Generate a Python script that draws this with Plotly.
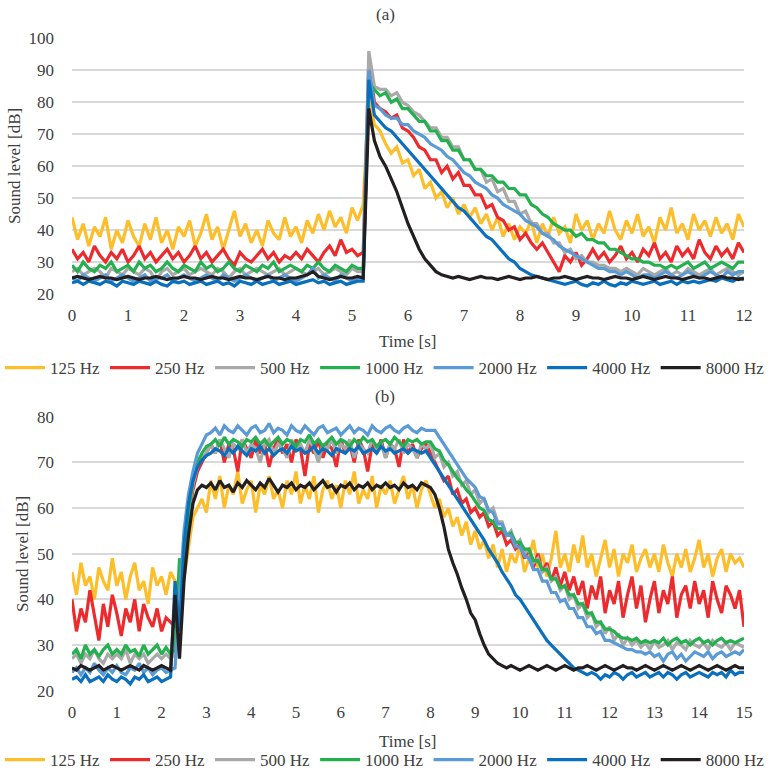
import numpy as np
import plotly.graph_objects as go

# ---------------- data ----------------
FREQS = ["125 Hz", "250 Hz", "500 Hz", "1000 Hz", "2000 Hz", "4000 Hz", "8000 Hz"]
COLORS = ["#FDBE2C", "#EC2B2E", "#A9A9A9", "#25B04F", "#5B9BD5", "#0A70BE", "#231F20"]
DT = 0.1  # sampling step of the read-off values [s]

A_XTICKS = list(range(0, 13))
A_YTICKS = list(range(20, 101, 10))
B_XTICKS = list(range(0, 16))
B_YTICKS = list(range(20, 81, 10))

# Panel (a): t = 0.0 ... 12.0 s
a_125 = [44, 37, 42, 35, 41, 38, 44, 34, 40, 36, 43, 38, 35, 42, 37, 44, 36, 40, 34, 41,
         38, 43, 35, 39, 45, 37, 41, 34, 40, 46, 38, 42, 36, 40, 35, 43, 39, 37, 44, 38,
         41, 36, 43, 39, 45, 40, 46, 41, 44, 39, 47, 43, 48,
         82, 73, 71, 67, 64, 66, 61, 62, 57, 59,
         53, 55, 50, 52, 47, 50, 45, 48, 44, 47,
         42, 45, 40, 44, 38, 42, 37, 41, 39, 43,
         36, 42, 38, 44, 39, 41, 36, 45, 40, 43,
         37, 42, 39, 46, 40, 37, 43, 39, 45, 38,
         41, 36, 44, 40, 47, 39, 42, 37, 45, 40,
         43, 38, 44, 39, 42, 37, 45, 41]
a_250 = [34, 31, 33, 30, 35, 32, 30, 33, 31, 34, 30, 32, 35, 31, 33, 30, 32, 34, 31, 33,
         30, 32, 35, 31, 33, 30, 32, 34, 31, 29, 33, 31, 30, 32, 34, 31, 33, 30, 32, 31,
         33, 31, 34, 32, 30, 33, 35, 32, 37, 33, 34, 32, 33,
         93, 80, 78, 77, 75, 76, 72, 71, 69, 66,
         65, 62, 62, 58, 60, 56, 58, 54, 54, 51,
         51, 47, 48, 44, 43, 40, 41, 37, 39, 36,
         34, 36, 33, 30, 27, 32, 30, 33, 29, 31,
         34, 31, 33, 30, 32, 35, 31, 33, 30, 34,
         32, 36, 31, 33, 30, 35, 32, 34, 31, 37,
         33, 31, 35, 32, 34, 31, 36, 33]
a_500 = [27, 28, 26, 27, 28, 27, 25, 28, 27, 26, 28, 27, 26, 28, 27, 24, 27, 28, 26, 27,
         28, 26, 27, 28, 27, 26, 28, 27, 25, 27, 28, 26, 27, 28, 27, 26, 27, 28, 26, 27,
         28, 27, 26, 27, 28, 26, 27, 28, 27, 26, 28, 27, 27,
         96, 85, 84, 84, 82, 83, 80, 79, 77, 76,
         74, 72, 72, 69, 69, 66, 66, 62, 62, 59,
         59, 55, 56, 52, 53, 49, 49, 45, 46, 42,
         42, 39, 39, 36, 36, 33, 34, 31, 32, 30,
         30, 29, 29, 28, 28, 27, 28, 27, 26, 28,
         27, 26, 27, 28, 26, 27, 26, 28, 27, 26,
         27, 28, 26, 27, 28, 27, 26, 27]
a_1000 = [29, 27, 30, 28, 27, 29, 28, 30, 27, 28, 29, 27, 30, 28, 29, 27, 28, 30, 28, 27,
          29, 28, 27, 30, 28, 29, 27, 28, 30, 28, 27, 29, 28, 27, 29, 28, 30, 27, 28, 29,
          28, 27, 29, 28, 30, 28, 27, 29, 28, 27, 29, 28, 28,
          86, 84, 82, 83, 80, 81, 78, 78, 76, 74,
          74, 71, 71, 68, 68, 65, 65, 62, 62, 59,
          59, 57, 57, 55, 55, 53, 53, 51, 51, 48,
          47, 45, 44, 42, 41, 40, 40, 38, 39, 37,
          37, 36, 36, 34, 34, 33, 32, 31, 31, 30,
          30, 29, 29, 28, 29, 28, 29, 30, 28, 29,
          30, 28, 29, 30, 29, 28, 30, 30]
a_2000 = [25, 24, 26, 25, 24, 25, 26, 24, 25, 26, 25, 24, 25, 26, 24, 25, 25, 26, 24, 25,
          26, 25, 24, 25, 26, 25, 24, 26, 25, 24, 25, 26, 25, 24, 25, 26, 24, 25, 26, 25,
          24, 25, 26, 28, 25, 26, 25, 24, 26, 25, 24, 25, 25,
          90, 79, 78, 76, 75, 75, 73, 73, 71, 70,
          69, 67, 66, 65, 63, 62, 60, 58, 57, 55,
          54, 53, 51, 50, 48, 47, 46, 45, 43, 42,
          41, 39, 38, 37, 35, 34, 33, 32, 31, 30,
          29, 28, 28, 27, 27, 26, 27, 26, 25, 26,
          26, 25, 26, 27, 26, 25, 26, 27, 26, 25,
          26, 27, 26, 25, 27, 26, 27, 27]
a_4000 = [23.5, 24, 23, 24, 23.5, 23, 24, 23.5, 22.5, 24, 23.5, 23, 24, 23.5, 23, 24, 23, 22.5, 24, 23.5,
          24, 23, 23.5, 24, 23, 23.5, 24, 23, 23.5, 22.5, 24, 23.5, 23, 24, 23, 23.5, 24, 23, 23.5, 24,
          23, 23.5, 24, 24.5, 23.5, 24, 23, 23.5, 24, 23, 23.5, 24, 24,
          87, 76, 74, 72, 71, 69, 67, 65, 63, 61,
          59, 57, 55, 53, 51, 49, 47, 46, 44, 42,
          40, 38, 37, 35, 33, 31, 30, 28, 27, 26,
          25.5, 25, 24.5, 24, 23.5, 23, 23.5, 24, 23, 22.5,
          23.5, 23, 24, 23, 22.5, 23.5, 23, 24, 23.5, 23,
          23.5, 24, 23, 23.5, 24, 23, 24, 23.5, 24, 23.5,
          24, 24.5, 24, 25, 24.5, 24, 25, 24.5]
a_8000 = [25, 25.5, 25, 24.5, 25, 25.5, 25, 25, 24.5, 25, 25.5, 25, 24.5, 25, 25, 25.5, 25, 24.5, 25, 25,
          25.5, 25, 25, 24.5, 25, 25.5, 25, 25, 24.5, 25, 25.5, 25, 25, 24.5, 25, 25.5, 25, 25, 24.5, 25,
          25, 25.5, 26, 27, 25.5, 25, 24.5, 25, 25.5, 25, 25, 25.5, 25,
          78, 68, 63, 60, 56, 52, 47, 42, 38, 34,
          31, 29, 27, 26, 25.5, 25, 25.5, 25, 24.5, 25,
          25.5, 25, 25, 24.5, 25, 25.5, 25, 24.5, 25, 25,
          25.5, 25, 24.5, 25, 25, 25.5, 25, 24.5, 25, 25.5,
          25, 25, 24.5, 25, 25.5, 25, 25, 24.5, 25, 25.5,
          25, 24.5, 25, 25.5, 25, 25, 24.5, 25, 25.5, 25,
          25, 24.5, 25, 25.5, 25, 25, 24.5, 25]

# Panel (b): t = 0.0 ... 15.0 s
b_125 = [46, 41, 48, 43, 45, 40, 47, 44, 42, 49,
         43, 46, 40, 45, 48, 42, 44, 39, 47, 43,
         45, 41, 46,
         44, 38, 45, 52, 58, 60, 62, 59,
         66, 62, 67, 60, 65, 63, 68, 61, 64, 66,
         59, 65, 63, 67, 62, 64, 60, 66, 63, 68,
         61, 65, 62, 67, 59, 64, 66, 62, 65, 60,
         66, 63, 68, 61, 64, 62, 67, 60, 65, 63,
         66, 61, 64, 67, 62, 65, 60, 64, 66,
         63, 60, 62, 58, 60, 56, 58, 54, 57, 52,
         55, 51, 53, 49, 52, 47, 51, 46, 50, 48,
         52, 46, 49, 53, 47, 50, 45, 49, 55, 47,
         50, 46, 52, 48, 54, 47, 50, 45, 49, 53,
         47, 51, 45, 50, 48, 52, 46, 49, 51, 47,
         50, 46, 52, 48, 45, 50, 47, 51, 46, 49,
         53, 47, 50, 45, 49, 51, 46, 50, 48, 49, 47]
b_250 = [40, 33, 38, 35, 42, 36, 31, 39, 34, 41,
         37, 32, 38, 35, 40, 33, 39, 36, 34, 38,
         33, 36, 35,
         34, 36, 48, 58, 64, 68, 70, 72,
         74, 72, 75, 70, 74, 73, 68, 75, 73, 71,
         75, 72, 74, 69, 73, 75, 72, 74, 70, 75,
         73, 67, 74, 72, 75, 71, 74, 73, 69, 75,
         72, 74, 70, 75, 73, 68, 74, 72, 75, 71,
         74, 73, 69, 75, 72, 74, 71, 73, 74,
         72, 70, 68, 66, 67, 63, 64, 61, 62, 59,
         60, 58, 59, 56, 57, 54, 55, 52, 53, 51,
         52, 49, 51, 47, 50, 46, 48, 44, 47, 43,
         46, 42, 45, 41, 44, 38, 43, 40, 45, 37,
         42, 39, 44, 36, 41, 45, 38, 43, 35, 40,
         44, 37, 42, 39, 45, 36, 41, 43, 38, 44,
         39, 42, 36, 44, 40, 37, 43, 41, 38, 42, 34]
b_500 = [27, 28, 26, 28, 27, 29, 27, 26, 28, 27,
         28, 27, 29, 26, 28, 27, 28, 26, 27, 28,
         27, 28, 27,
         28, 36, 50, 59, 65, 69, 71, 72,
         74, 72, 75, 73, 71, 74, 73, 75, 72, 74,
         73, 70, 74, 75, 72, 74, 73, 71, 75, 73,
         74, 72, 75, 73, 70, 74, 73, 75, 72, 74,
         73, 75, 71, 74, 73, 72, 75, 73, 74, 71,
         74, 73, 75, 72, 74, 73, 71, 74, 73,
         74, 71, 72, 69, 70, 67, 68, 65, 66, 63,
         64, 61, 62, 59, 60, 57, 57, 54, 55, 52,
         53, 50, 51, 48, 49, 46, 47, 44, 45, 42,
         43, 40, 41, 38, 39, 36, 37, 34, 35, 32.5,
         34, 31, 32.5, 30, 31.5, 30, 31, 29.5, 30.5, 29,
         31, 29.5, 30, 31, 29, 30.5, 30, 29, 31, 30,
         29.5, 30.5, 29, 31, 30, 29.5, 30.5, 29, 30.5, 30, 29.5]
b_1000 = [28, 29, 27, 30, 28, 29, 27.5, 29, 30, 28,
          29, 28, 30, 28.5, 29, 27.5, 30, 28, 29, 30,
          28, 29.5, 28,
          29, 49, 45, 59, 66, 70, 72, 73.5,
          74, 75, 73.5, 75.5, 74, 75, 74.5, 73.5, 75, 74.5,
          75.5, 74, 75, 73.5, 74.5, 75.5, 74, 75, 74.5, 73.5,
          75, 74.5, 76, 74, 75, 73.5, 74.5, 75.5, 74, 75,
          74.5, 73.5, 75, 74, 75.5, 74.5, 75, 73.5, 74.5, 75,
          74, 75.5, 74.5, 73.5, 75, 74.5, 75, 74, 74.5,
          74.5, 73, 72.5, 70.5, 69.5, 68, 66.5, 65.5, 64, 63,
          61.5, 60, 59.5, 57.5, 57, 55.5, 55.5, 54, 54.5, 52.5,
          52.5, 51, 51, 48.5, 48.5, 46.5, 46.5, 44.5, 44.5, 42.5,
          43, 41, 41, 39, 39, 37, 37, 35, 35, 33.5,
          33.5, 33, 32, 31.5, 31.5, 31, 31.5, 30.5, 31, 30.5,
          31, 30.5, 31.5, 30, 31, 31.5, 30.5, 31, 30, 31,
          31.5, 30.5, 31, 30, 31, 31.5, 30.5, 31, 30.5, 31, 31.5]
b_2000 = [24, 25, 23.5, 25, 24, 26, 24.5, 23.5, 25, 24,
          25.5, 24, 23.5, 25, 24.5, 26, 24, 25, 23.5, 24.5,
          25, 24, 24.5,
          25, 40, 55, 63, 68, 72, 74, 76,
          76.5, 77.5, 76, 78, 77, 76.5, 78, 77, 76, 77.5,
          78, 76.5, 77, 78.5, 76.5, 77.5, 77, 76, 78, 77,
          76.5, 78, 77, 76, 77.5, 78, 76.5, 77, 77.5, 76,
          77, 78, 76.5, 77.5, 77, 76, 78, 77, 76.5, 77.5,
          78, 77, 76.5, 77.5, 78, 77, 76.5, 77.5, 77,
          77, 77, 75.5, 74, 72.5, 71, 69.5, 68, 66.5, 65.5,
          64.5, 62.5, 62, 59.5, 59, 56.5, 56.5, 54, 54, 51.5,
          51.5, 49.5, 49, 46.5, 46.5, 44, 44, 41.5, 41.5, 39.5,
          40, 38, 38, 36, 36, 34, 34, 32.5, 33, 31,
          31, 30.5, 30, 29.5, 29, 29, 28.5, 28.5, 28, 28.5,
          27.5, 28, 26.5, 28, 28.5, 27, 28, 26.5, 27.5, 28.5,
          28, 27.5, 28.5, 27, 28, 28.5, 27.5, 28, 28.5, 28, 29]
b_4000 = [22.5, 23, 22, 23.5, 22, 22.5, 23, 22, 23.5, 22.5,
          22, 23, 22.5, 21.5, 23, 22.5, 23.5, 22, 22.5, 23,
          22, 22.5, 23,
          44, 33, 52, 61, 66, 69, 70.5, 71.5,
          72, 73, 72.5, 71.5, 73, 72, 73.5, 72.5, 71.5, 73,
          72.5, 73.5, 72, 73, 71.5, 72.5, 73, 72, 73.5, 72.5,
          73, 72, 72.5, 73.5, 72, 73, 72.5, 71.5, 73, 72.5,
          72, 73, 72.5, 73.5, 72, 72.5, 73, 72, 73.5, 72.5,
          73, 72, 72.5, 73, 72, 73, 72.5, 72, 72.5,
          71, 69.5, 68, 66.5, 65, 63.5, 62, 60.5, 59, 57.5,
          56, 54.5, 53, 51, 49.5, 48, 46, 44.5, 43, 41,
          40, 38.5, 37, 35.5, 34, 32.5, 31, 30, 29, 28,
          27, 26, 25, 24.5, 24, 23.5, 24, 23.5, 22.5, 23.5,
          23, 24, 23.5, 22.5, 23.5, 24, 23, 23.5, 24, 23,
          23.5, 24, 23, 24, 23.5, 22.5, 23.5, 24, 23, 23.5,
          24, 23.5, 23, 24, 23.5, 24, 23, 24.5, 23.5, 24, 24]
b_8000 = [25, 24.5, 25.5, 25, 24.5, 25, 25.5, 24.5, 25, 25.5,
          25, 24.5, 25, 25.5, 25, 24.5, 25.5, 25, 24.5, 25,
          25.5, 25, 24.5,
          41, 27, 44, 54, 61, 64, 65, 64.5,
          65.5, 64, 66, 64.5, 65, 63.5, 65.5, 64.5, 66, 65,
          64, 65.5, 64.5, 66.5, 65, 63.5, 65, 64.5, 65.5, 64,
          65, 64.5, 65.5, 64, 65, 66, 64.5, 65, 63.5, 65,
          64.5, 65.5, 64, 65, 64.5, 65.5, 64, 65, 64.5, 65.5,
          64.5, 65, 64, 65.5, 64.5, 65, 64, 65.5, 65,
          64.5, 63, 60, 56, 51, 48, 45.5, 42.5, 40, 37,
          35.5, 32.5, 30, 28, 27, 26, 25.5, 25, 25.5, 25,
          24.5, 25, 25.5, 25, 24.5, 25, 25.5, 25, 24.5, 25,
          25.5, 25, 24.5, 25, 25, 25.5, 25, 24.5, 25, 25.5,
          25, 24.5, 25, 25.5, 25, 25, 24.5, 25, 25.5, 25,
          24.5, 25, 25.5, 25, 24.5, 25, 25.5, 25, 24.5, 25,
          25.5, 25, 24.5, 25, 25.5, 25, 24.5, 25, 25.5, 25, 25]

PANEL_A = [a_125, a_250, a_500, a_1000, a_2000, a_4000, a_8000]
PANEL_B = [b_125, b_250, b_500, b_1000, b_2000, b_4000, b_8000]

# ---------------- figure ----------------
W, H = 770, 773
FONT = "Liberation Serif"
FS = 17
TXT = "#404040"


def px_x(p):
    return p / W


def px_y(p):
    return 1 - p / H


fig = go.Figure()

for name, col, vals in zip(FREQS, COLORS, PANEL_A):
    t = np.round(np.arange(len(vals)) * DT, 3)
    fig.add_trace(go.Scatter(x=t, y=vals, mode="lines", name=name,
                             line=dict(color=col, width=3.2),
                             xaxis="x", yaxis="y", legend="legend"))
for name, col, vals in zip(FREQS, COLORS, PANEL_B):
    t = np.round(np.arange(len(vals)) * DT, 3)
    fig.add_trace(go.Scatter(x=t, y=vals, mode="lines", name=name,
                             line=dict(color=col, width=3.2),
                             xaxis="x2", yaxis="y2", legend="legend2"))

xdom = [px_x(72), px_x(744)]
common_x = dict(showgrid=False, zeroline=False, showline=False, ticks="",
                tickfont=dict(family=FONT, size=FS, color=TXT), ticklabelstandoff=9)
common_y = dict(showgrid=True, gridcolor="#D9D9D9", gridwidth=1.5, zeroline=False,
                showline=False, ticks="", tickfont=dict(family=FONT, size=FS, color=TXT),
                ticklabelstandoff=17)

legend_common = dict(orientation="h", xanchor="left", yanchor="middle",
                     font=dict(family=FONT, size=FS, color=TXT),
                     bgcolor="rgba(0,0,0,0)", itemwidth=40, tracegroupgap=0)

fig.update_layout(
    width=W, height=H,
    margin=dict(l=0, r=0, t=0, b=0, autoexpand=False),
    paper_bgcolor="white", plot_bgcolor="white",
    font=dict(family=FONT, size=FS, color=TXT),
    xaxis=dict(domain=xdom, range=[0, 12], tickvals=A_XTICKS, anchor="y", **common_x),
    yaxis=dict(domain=[px_y(294), px_y(38.3)], range=[20, 100], tickvals=A_YTICKS,
               anchor="x", **common_y),
    xaxis2=dict(domain=xdom, range=[0, 15], tickvals=B_XTICKS, anchor="y2", **common_x),
    yaxis2=dict(domain=[px_y(690.7), px_y(416.7)], range=[20, 80], tickvals=B_YTICKS,
                anchor="x2", **common_y),
    legend=dict(x=0, y=px_y(368), **legend_common),
    legend2=dict(x=0, y=px_y(760), **legend_common),
    showlegend=True,
)

ann = dict(showarrow=False, xref="paper", yref="paper",
           font=dict(family=FONT, size=FS, color=TXT))
fig.add_annotation(text="(a)", x=0.5, y=px_y(14), xanchor="center", yanchor="middle", **ann)
fig.add_annotation(text="(b)", x=0.5, y=px_y(396), xanchor="center", yanchor="middle", **ann)
fig.add_annotation(text="Time [s]", x=px_x(408), y=px_y(341), xanchor="center",
                   yanchor="middle", **ann)
fig.add_annotation(text="Time [s]", x=px_x(408), y=px_y(741), xanchor="center",
                   yanchor="middle", **ann)
fig.add_annotation(text="Sound level [dB]", x=px_x(15), y=px_y(166), xanchor="center",
                   yanchor="middle", textangle=-90, **ann)
fig.add_annotation(text="Sound level [dB]", x=px_x(22), y=px_y(554), xanchor="center",
                   yanchor="middle", textangle=-90, **ann)

fig.write_html("out.html")
